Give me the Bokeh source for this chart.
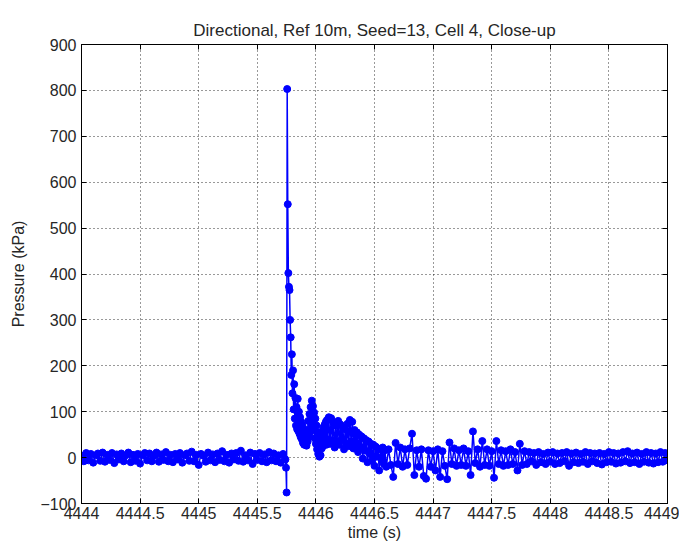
from bokeh.plotting import figure
from bokeh.models import LinearAxis, FixedTicker, Range1d
from bokeh.embed import file_html
from bokeh.resources import INLINE

# ---- data (time in s, pressure in kPa) ----
# Segment A: pre-impact baseline, sampled every 0.02 s from 4444.00
seg_a_start = 4444.00
seg_a_step = 0.02
seg_a_p = [4, -8, 10, -6, 8, -11, 5, 9, -7, 11,
           -9, 6, -5, 10, -12, 7, -4, 9, -8, 5,
           11, -10, 6, -7, 8, -13, 5, 10, -6, 9,
           -8, 4, 11, -9, 7, -5, 12, -8, 6, -10,
           8, -4, 10, -11, 5, 9, -7, 13, -8, 6,
           -16, 8, 4, -9, 11, -6, 7, -10, 9, -5,
           14, -8, 6, -11, 9, -4, 10, -7, 15, -9,
           5, -6, 11, -14, 8, -5, 10, -8, 7, -10,
           12, -6, 9, -8, 5, -11, 8, -4]

# Segment B: impact and first decay, every 0.005 s from 4445.745
seg_b_start = 4445.745
seg_b_step = 0.005
seg_b_p = [-22, -76, 803, 552, 402, 372, 365, 300, 262, 180,
           225, 140, 190, 105, 160, 85, 130, 70, 110, 62,
           128, 58, 100, 52, 88, 45, 78, 40, 70, 32,
           62, 28, 55, 30, 48, 26, 60, 35, 80, 45,
           95, 55, 110, 70, 124, 80, 112, 60, 98, 42,
           85, 30, 70, 18, 55, 8, 40, 2, 30, 5,
           45, 20, 58, 25, 66, 30, 72, 35, 78, 28,
           82]

# Segment C: secondary hump, every 0.01 s from 4446.10
seg_c_start = 4446.10
seg_c_step = 0.01
seg_c_p = [40, 88, 30, 86, 38, 76, 22, 70, 35, 80,
           28, 72, 40, 66, 18, 62, 30, 74, 25, 82,
           35, 78, 20, 60, 28, 55, 12, 50, 22, 46,
           -2, 42, 15, 38, -10, 35, 8, 30, -6, 28,
           -18, 24, 2, 20, -28, 18, -4, 22, -14, 16,
           -20]

# Segment D: post-impact noise, every 0.02 s from 4446.62
seg_d_start = 4446.62
seg_d_step = 0.02
seg_d_p = [18, -16, -42, 32, -14, 22, -20, 18, -16,
           20, 52, -38, 16, -20, 18, -40, -46, 16, -20,
           14, -28, 18, -42, 14, -18, -47, 33, -14, 20,
           -18, 16, -16, 20, -18, 14, -38, 57, -12, 18,
           -20, 36, -16, 18, -18, 14, -44, 36, -14, 16,
           -18, 14, -16, 18, -14, 12, -28, 30, -16, 14,
           -14, 12, -8, 10, -16, 12, -10, 8, -14, 11,
           -9, 12, -14, 9, -12, 10, -8, 12, -18, 9,
           -10, 11, -12, 8, -9, 12, -14, 10, -8, 9,
           -12, 10, -15, 8, -10, 12, -9, 10, -13, 9,
           -11, 12, -8, 14, -12, 9, -10, 11, -14, 8,
           -9, 12, -11, 10, -13, 9, -10, 12, -9, 10,
           -6]

x_ticks = [4444, 4444.5, 4445, 4445.5, 4446, 4446.5, 4447, 4447.5, 4448, 4448.5, 4449]
x_tick_labels = ["4444", "4444.5", "4445", "4445.5", "4446", "4446.5",
                 "4447", "4447.5", "4448", "4448.5", "4449"]
y_ticks = [-100, 0, 100, 200, 300, 400, 500, 600, 700, 800, 900]

# ---- build the series ----
t = []
p_vals = []
for start, step, vals in ((seg_a_start, seg_a_step, seg_a_p),
                          (seg_b_start, seg_b_step, seg_b_p),
                          (seg_c_start, seg_c_step, seg_c_p),
                          (seg_d_start, seg_d_step, seg_d_p)):
    for i, v in enumerate(vals):
        t.append(round(start + i * step, 4))
        p_vals.append(v)

FONT = "Liberation Sans"
BLUE = "#0000ff"
TXT = "#262626"

p = figure(frame_width=586, frame_height=459,
           x_range=Range1d(4444, 4449), y_range=Range1d(-100, 900),
           output_backend="svg", toolbar_location=None,
           min_border_left=81, min_border_top=44,
           min_border_right=12, min_border_bottom=44,
           background_fill_color="white", border_fill_color="white")

p.title.text = "Directional, Ref 10m, Seed=13, Cell 4, Close-up"
p.title.align = "center"
p.title.text_font = FONT
p.title.text_font_size = "17px"
p.title.text_font_style = "normal"
p.title.text_color = TXT

p.outline_line_color = "black"
p.outline_line_width = 1

for ax, ticks in ((p.xaxis[0], x_ticks), (p.yaxis[0], y_ticks)):
    ax.ticker = FixedTicker(ticks=ticks)
    ax.major_tick_in = 5
    ax.major_tick_out = 0
    ax.minor_tick_line_color = None
    ax.axis_line_color = "black"
    ax.major_tick_line_color = "black"
    ax.major_label_text_font = FONT
    ax.major_label_text_font_size = "16px"
    ax.major_label_text_color = TXT
    ax.axis_label_text_font = FONT
    ax.axis_label_text_font_size = "16px"
    ax.axis_label_text_font_style = "normal"
    ax.axis_label_text_color = TXT

p.xaxis[0].major_label_overrides = {tk: lb for tk, lb in zip(x_ticks, x_tick_labels)}
p.xaxis[0].axis_label = "time (s)"
p.xaxis[0].major_label_standoff = 3
p.xaxis[0].axis_label_standoff = 2
p.yaxis[0].axis_label = "Pressure (kPa)"
p.yaxis[0].major_label_standoff = 5
p.yaxis[0].axis_label_standoff = 10

# box ticks on top and right (no labels)
for loc, ticks in (("above", x_ticks), ("right", y_ticks)):
    ax = LinearAxis(ticker=FixedTicker(ticks=ticks))
    ax.major_tick_in = 5
    ax.major_tick_out = 0
    ax.minor_tick_line_color = None
    ax.major_label_overrides = {tk: "" for tk in ticks}
    ax.major_label_standoff = 0
    ax.axis_line_color = "black"
    p.add_layout(ax, loc)

for g in (p.xgrid[0], p.ygrid[0]):
    g.grid_line_color = "black"
    g.grid_line_dash = "1 3"
    g.grid_line_alpha = 0.8
    g.grid_line_width = 1

p.xgrid[0].ticker = FixedTicker(ticks=x_ticks)
p.ygrid[0].ticker = FixedTicker(ticks=y_ticks)

p.line(t, p_vals, line_color=BLUE, line_width=1.5)
p.scatter(t, p_vals, marker="circle", size=7, fill_color=BLUE, line_color=BLUE)

open("out.html", "w").write(file_html(p, INLINE))
